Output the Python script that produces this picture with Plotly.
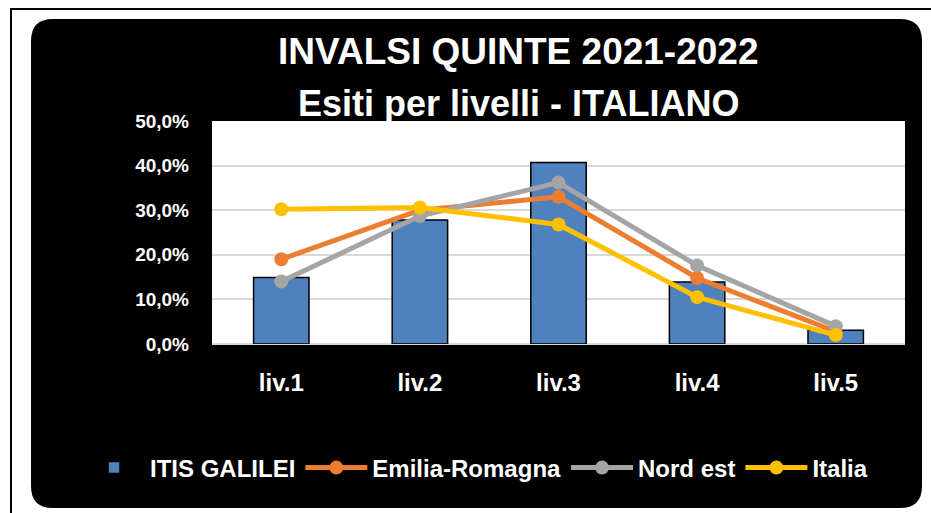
import plotly.graph_objects as go

categories = ["liv.1", "liv.2", "liv.3", "liv.4", "liv.5"]
itis_galilei = [0.149, 0.278, 0.407, 0.139, 0.031]
emilia_romagna = [0.190, 0.300, 0.330, 0.148, 0.028]
nord_est = [0.140, 0.287, 0.362, 0.176, 0.040]
italia = [0.302, 0.306, 0.268, 0.105, 0.020]

W, H = 931, 513
L, R, T, B = 212, 905, 121, 344  # plot area in pixels

def px(x):
    return (x - L) / (R - L)

def py(y):
    return (B - y) / (B - T)

FONT = "Liberation Sans, Arial, sans-serif"

fig = go.Figure()
fig.add_trace(go.Bar(
    x=categories, y=itis_galilei, name="ITIS GALILEI",
    marker=dict(color="#4F81BD", line=dict(color="#000000", width=1.5)),
))
for name, vals, col in [("Emilia-Romagna", emilia_romagna, "#ED7D31"),
                        ("Nord est", nord_est, "#A5A5A5"),
                        ("Italia", italia, "#FFC000")]:
    fig.add_trace(go.Scatter(
        x=categories, y=vals, name=name, mode="lines+markers",
        line=dict(color=col, width=5),
        marker=dict(color=col, size=14),
    ))

# rounded black background
x0, x1, y0, y1 = px(31), px(922), py(19), py(508)
rx = 22 / (R - L)
ry = 22 / (B - T)
path = (f"M {x0+rx},{y0} L {x1-rx},{y0} Q {x1},{y0} {x1},{y0-ry} "
        f"L {x1},{y1+ry} Q {x1},{y1} {x1-rx},{y1} "
        f"L {x0+rx},{y1} Q {x0},{y1} {x0},{y1+ry} "
        f"L {x0},{y0-ry} Q {x0},{y0} {x0+rx},{y0} Z")
shapes = [
    dict(type="path", xref="paper", yref="paper", path=path,
         fillcolor="#000000", line=dict(width=0), layer="below"),
    dict(type="rect", xref="paper", yref="paper", x0=0, x1=1, y0=0, y1=1,
         fillcolor="#FFFFFF", line=dict(width=0), layer="below"),
    dict(type="line", xref="paper", yref="paper", x0=px(10), x1=px(931),
         y0=py(9), y1=py(9), line=dict(color="#000000", width=2)),
    dict(type="line", xref="paper", yref="paper", x0=px(11), x1=px(11),
         y0=py(8), y1=py(513), line=dict(color="#000000", width=2)),
]

annotations = [
    dict(text="<b>INVALSI QUINTE 2021-2022</b>", xref="paper", yref="paper",
         x=px(518), y=py(51), xanchor="center", yanchor="middle", showarrow=False,
         font=dict(family=FONT, size=37, color="#FFFFFF")),
    dict(text="<b>Esiti per livelli - ITALIANO</b>", xref="paper", yref="paper",
         x=px(518), y=py(103), xanchor="center", yanchor="middle", showarrow=False,
         font=dict(family=FONT, size=36, color="#FFFFFF")),
]

fig.update_layout(
    width=W, height=H,
    margin=dict(l=L, r=W - R, t=T, b=H - B, pad=0),
    paper_bgcolor="#FFFFFF", plot_bgcolor="#FFFFFF",
    separators=", ",
    bargap=0.6,
    showlegend=True,
    legend=dict(orientation="h", x=px(78), y=py(468), xanchor="left", yanchor="middle",
                font=dict(family=FONT, size=24, color="#FFFFFF"),
                bgcolor="rgba(0,0,0,0)", itemwidth=62),
    shapes=shapes, annotations=annotations,
    xaxis=dict(type="category", showgrid=False, showline=False, ticks="",
               tickfont=dict(family=FONT, size=24, color="#FFFFFF"),
               ticklabelstandoff=22, fixedrange=True),
    yaxis=dict(range=[0, 0.5], dtick=0.1, tickformat=".1%", showgrid=True,
               gridcolor="#D9D9D9", gridwidth=1.5, zeroline=True, zerolinecolor="#D9D9D9",
               zerolinewidth=1.5, showline=False, ticks="",
               tickfont=dict(family=FONT, size=19, color="#FFFFFF"),
               ticklabelstandoff=22, fixedrange=True),
    font=dict(family=FONT),
)
fig.update_xaxes(tickprefix="<b>", ticksuffix="</b>")
fig.update_yaxes(tickprefix="<b>", ticksuffix="</b>")
for tr in fig.data:
    tr.name = f"<b>{tr.name}</b>"

fig.write_html("out.html", config={"displayModeBar": False},
               post_script="document.body.style.margin='0';document.body.style.overflow='hidden';")
